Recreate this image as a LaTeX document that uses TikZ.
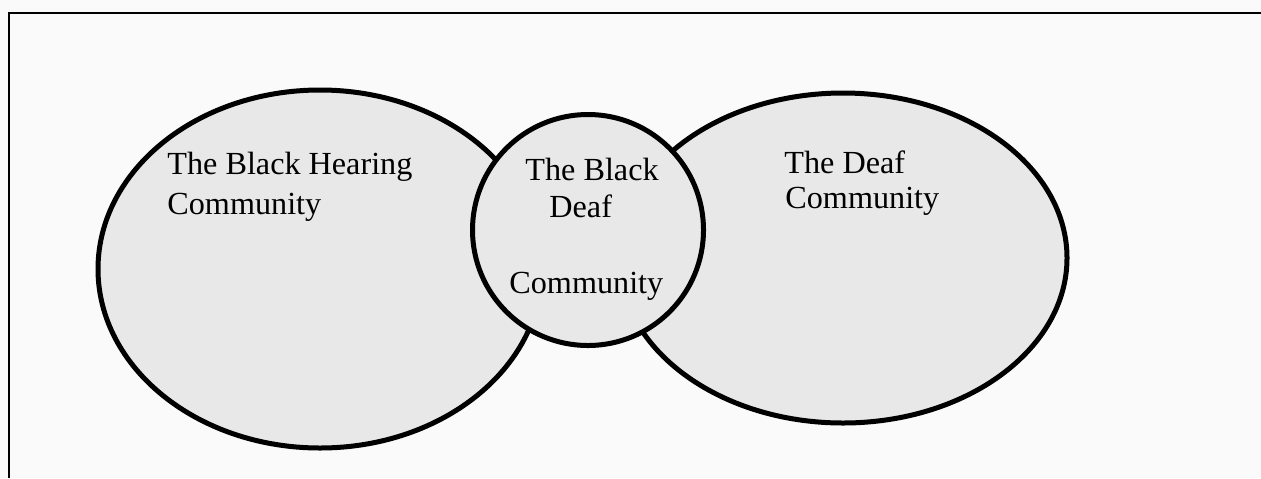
\documentclass[tikz,border=0pt]{standalone}
\usepackage{fontspec}
\setmainfont{Liberation Serif}
\usetikzlibrary{shapes.geometric}

\tikzset{
  community/.style = {draw, ellipse, line width = 2.5pt, fill = black!9,
    inner sep = 0pt},
  label/.style = {anchor = base west, inner sep = 0pt,
    font = \fontsize{16.1}{19}\selectfont}
}

\begin{document}
\begin{tikzpicture}[x = 0.5pt, y = -0.5pt]
  % page and frame
  \useasboundingbox[fill = black!2] (0, 0) rectangle (1261, 478);
  \draw[line width = 0.8pt] (9, 478) -- (9, 13) -- (1261, 13);
  % the three communities (sizes in pt, half the pixel size)
  \node[community, minimum width = 222pt, minimum height = 179pt]
    (hearing) at (320, 269) {};
  \node[community, minimum width = 224pt, minimum height = 165pt]
    (deaf) at (843, 258) {};
  \node[community, circle, minimum size = 115.5pt]
    (blackdeaf) at (588, 230) {};
  % texts
  \node[label] (hearing1) at (167, 174) {The Black Hearing};
  \node[label] (hearing2) at (167, 214) {Community};
  \node[label] (blackdeaf1) at (525, 180) {The Black};
  \node[label] (blackdeaf2) at (549, 217) {Deaf};
  \node[label] (blackdeaf3) at (509, 293) {Community};
  \node[label] (deaf1) at (784, 173) {The Deaf};
  \node[label] (deaf2) at (785, 208) {Community};
\end{tikzpicture}
\end{document}
